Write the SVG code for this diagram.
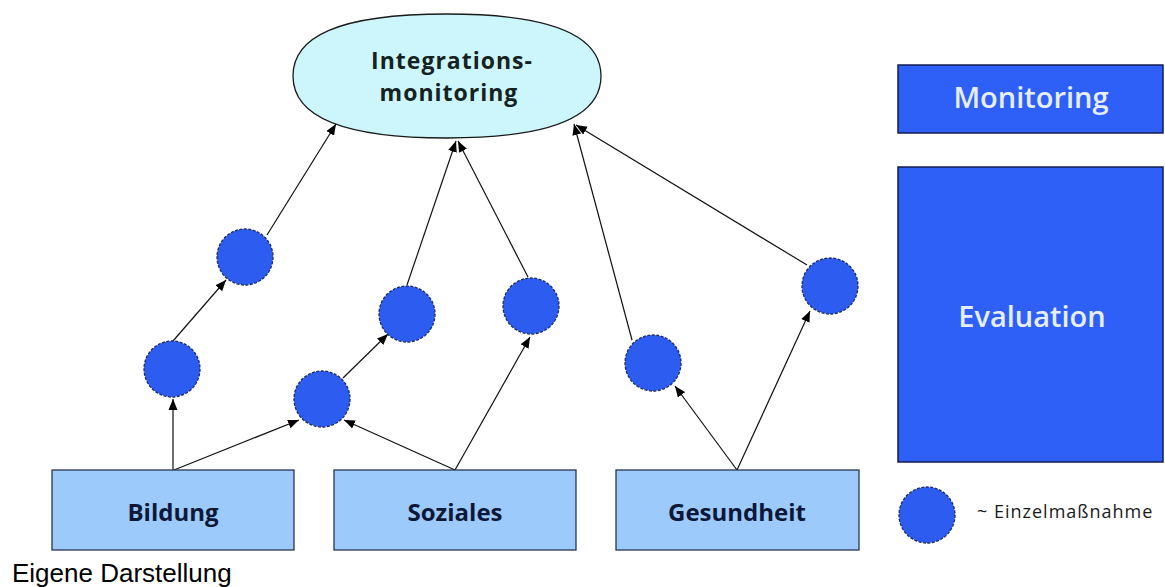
<svg xmlns="http://www.w3.org/2000/svg" width="1165" height="587" viewBox="0 0 1165 587">
  <defs>
    <marker id="arrow" markerUnits="userSpaceOnUse" markerWidth="12" markerHeight="10" refX="11" refY="5" orient="auto">
      <path d="M0,0.5 L11,5 L0,9.5 Z" fill="#000"/>
    </marker>
    <style>
      .conn { stroke: #111; stroke-width: 1.2; fill: none; marker-end: url(#arrow); }
      .measure { fill: #2c5cf0; stroke: #1a2a66; stroke-width: 1.3; stroke-dasharray: 3 1.5; }
      .area { fill: #9ccafb; stroke: #2a3550; stroke-width: 1.3; }
      .area-label { font-family: "Open Sans", "DejaVu Sans", sans-serif; font-weight: 700; font-size: 24px; fill: #0c1838; text-anchor: middle; }
      .phase { fill: #2e60f7; stroke: #141c50; stroke-width: 1.5; }
      .phase-label { font-family: "Open Sans", "DejaVu Sans", sans-serif; font-weight: 600; font-size: 29px; fill: #e6eefc; text-anchor: middle; }
      .hub-label { font-family: "Open Sans", "DejaVu Sans", sans-serif; font-weight: 700; font-size: 23px; fill: #152222; text-anchor: middle; letter-spacing: 1px; }
    </style>
  </defs>

  <rect width="1165" height="587" fill="#ffffff"/>

  <!-- central hub -->
  <g id="integrationsmonitoring">
    <path d="M293,76 C293,37.6 336,14 447,14 C558,14 601,37.6 601,76 C601,114.4 558,138 447,138 C336,138 293,114.4 293,76 Z" fill="#ccf6fb" stroke="#1a1a1a" stroke-width="1.3"/>
    <text class="hub-label" x="452" y="69">Integrations-</text>
    <text class="hub-label" x="449" y="101">monitoring</text>
  </g>

  <!-- connectors -->
  <g id="connectors">
    <line class="conn" x1="173" y1="470" x2="173" y2="399"/>
    <line class="conn" x1="174" y1="470" x2="299" y2="420"/>
    <line class="conn" x1="173" y1="341" x2="226" y2="280"/>
    <line class="conn" x1="267" y1="235" x2="336" y2="124"/>
    <line class="conn" x1="343" y1="378" x2="388" y2="334"/>
    <line class="conn" x1="455" y1="470" x2="344" y2="420"/>
    <line class="conn" x1="455" y1="470" x2="530" y2="337"/>
    <line class="conn" x1="407" y1="285" x2="456" y2="141"/>
    <line class="conn" x1="528" y1="277" x2="458" y2="141"/>
    <line class="conn" x1="632" y1="340" x2="574" y2="124"/>
    <line class="conn" x1="807" y1="265" x2="576" y2="125"/>
    <line class="conn" x1="737" y1="470" x2="675" y2="386"/>
    <line class="conn" x1="737" y1="470" x2="810" y2="311"/>
  </g>

  <!-- individual measures -->
  <g id="measure-a"><circle class="measure" cx="245" cy="257" r="28"/></g>
  <g id="measure-b"><circle class="measure" cx="172" cy="369" r="28"/></g>
  <g id="measure-c"><circle class="measure" cx="322" cy="399" r="28"/></g>
  <g id="measure-d"><circle class="measure" cx="407" cy="314" r="28"/></g>
  <g id="measure-e"><circle class="measure" cx="531" cy="306" r="28"/></g>
  <g id="measure-f"><circle class="measure" cx="653" cy="363" r="28"/></g>
  <g id="measure-g"><circle class="measure" cx="830" cy="286" r="28"/></g>

  <!-- policy areas -->
  <g id="bildung">
    <rect class="area" x="52" y="470" width="242" height="80"/>
    <text class="area-label" x="173" y="521">Bildung</text>
  </g>
  <g id="soziales">
    <rect class="area" x="334" y="470" width="242" height="80"/>
    <text class="area-label" x="455" y="521">Soziales</text>
  </g>
  <g id="gesundheit">
    <rect class="area" x="616" y="470" width="243" height="80"/>
    <text class="area-label" x="737" y="521">Gesundheit</text>
  </g>

  <!-- phases -->
  <g id="monitoring">
    <rect class="phase" x="898" y="65" width="265" height="68"/>
    <text class="phase-label" x="1031" y="108">Monitoring</text>
  </g>
  <g id="evaluation">
    <rect class="phase" x="898" y="167" width="265" height="295"/>
    <text class="phase-label" x="1032" y="327">Evaluation</text>
  </g>

  <!-- legend -->
  <g id="legend">
    <circle class="measure" cx="927" cy="515" r="28"/>
    <text x="977" y="518" font-family="'Open Sans', 'DejaVu Sans', sans-serif" font-size="18" fill="#1a1a1a" letter-spacing="1">~ Einzelmaßnahme</text>
  </g>

  <text x="12" y="582" font-family="'Liberation Sans', Arial, sans-serif" font-size="26" fill="#000">Eigene Darstellung</text>
</svg>
